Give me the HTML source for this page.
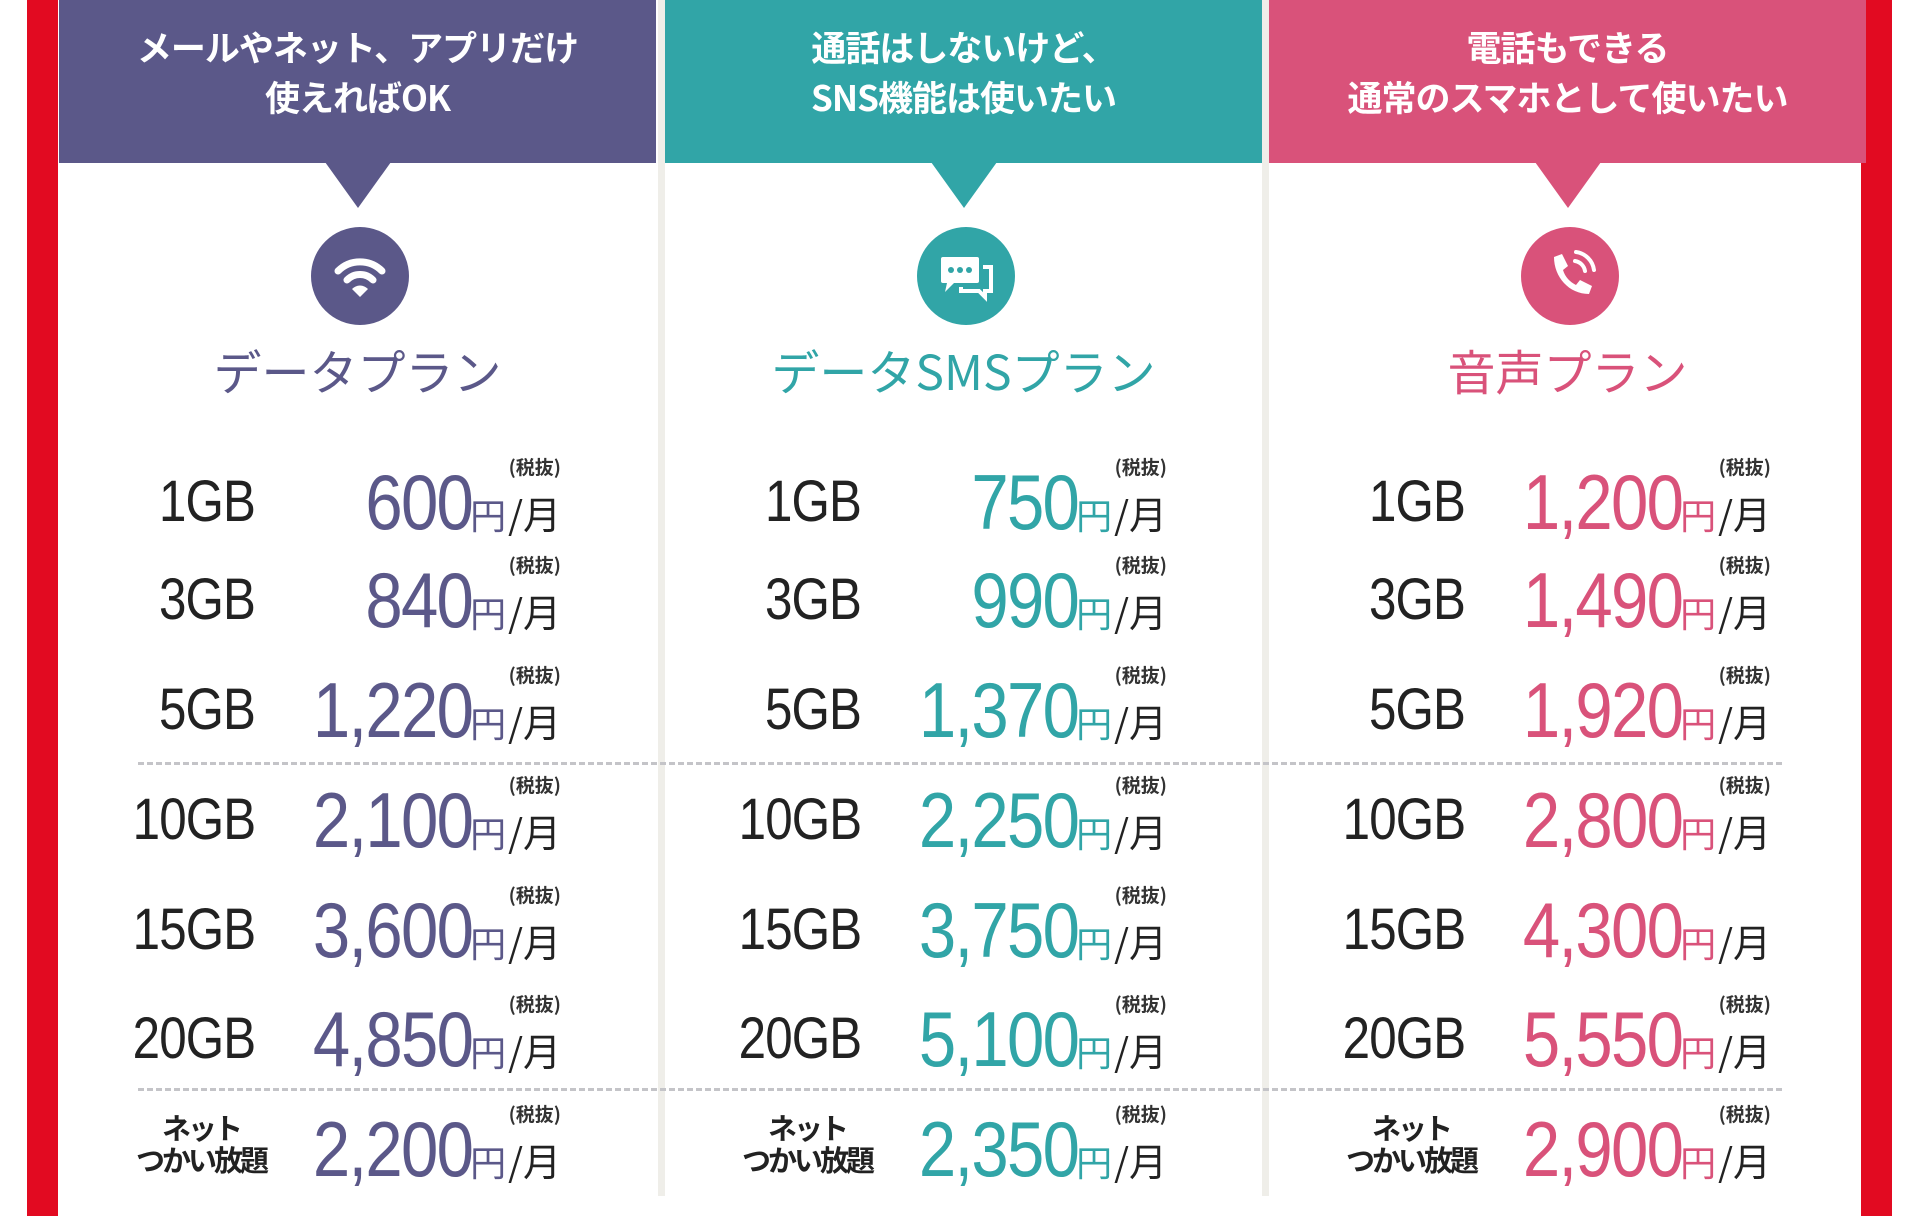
<!DOCTYPE html>
<html><head><meta charset="utf-8"><style>
*{margin:0;padding:0;box-sizing:border-box}
body{width:1920px;height:1216px;background:#fff;position:relative;overflow:hidden;font-family:"Liberation Sans","Noto Sans CJK JP",sans-serif}
.red{position:absolute;top:0;height:1216px;width:31px;background:#e20a21}
.gap{position:absolute;top:0;height:1196px;width:7px;background:#efeee9}
.col{position:absolute;top:0;width:597px;height:1216px}
.hd{position:absolute;left:0;top:0;width:100%;height:163px;color:#fff;font-weight:bold;font-size:35px;letter-spacing:-1px;line-height:50px;text-align:center;padding-top:22px;font-family:"Noto Sans CJK JP",sans-serif}
.tri{position:absolute;left:266px;top:162px;width:0;height:0;border-left:33px solid transparent;border-right:33px solid transparent;border-top:46px solid}
.ic{position:absolute;left:252px;top:227px;width:98px;height:98px;border-radius:50%}
.ic svg{position:absolute;left:0;top:0}
.ttl{position:absolute;left:0;width:100%;top:339px;text-align:center;font-size:48px;line-height:60px;font-family:"Noto Sans CJK JP",sans-serif;font-weight:400}
.row{position:absolute;left:0;width:100%;height:80px}
.gb{position:absolute;right:401px;top:0;font-size:58px;line-height:80px;color:#222;letter-spacing:-1px;transform:scaleX(.85);transform-origin:right}
.pr{position:absolute;right:95px;top:0;display:flex;align-items:baseline;line-height:80px;white-space:nowrap}
.num{font-size:78px;letter-spacing:-2px;transform:scaleX(.86);transform-origin:right;display:inline-block;margin-right:-2px}
.yen{font-size:36px;font-family:"Noto Sans CJK JP",sans-serif;margin-left:0}
.mo{font-size:38px;color:#222;font-family:"Noto Sans CJK JP",sans-serif;position:relative;margin-left:2px}
.tax{position:absolute;right:0;top:-16px;font-size:19px;line-height:20px;color:#333;font-weight:bold;white-space:nowrap}
.ul{position:absolute;right:390px;top:2px;font-size:29px;line-height:32px;color:#222;font-weight:bold;text-align:center;font-family:"Noto Sans CJK JP",sans-serif;letter-spacing:-3px}
.dash{position:absolute;left:138px;width:1644px;height:0;border-top:3px dashed #c4c4c8}
</style></head><body>
<div class="red" style="left:27px"></div>
<div class="red" style="left:1861px"></div>
<div class="gap" style="left:658px"></div>
<div class="gap" style="left:1262px"></div>

<div class="col" style="left:59px;color:#5b5889">
<div class="hd" style="background:#5b5889">メールやネット、アプリだけ<br>使えればOK</div>
<div class="tri" style="border-top-color:#5b5889"></div>
<div class="ic" style="background:#5b5889"><svg width="98" height="98" viewBox="0 0 98 98"><g fill="none" stroke="#fff" stroke-width="7" stroke-linecap="round"><path d="M27 44a31 31 0 0 1 44 0"/><path d="M36 53a18 18 0 0 1 26 0"/></g><path d="M41 62l8 8 8-8a11 11 0 0 0-16 0z" fill="#fff"/></svg></div>
<div class="ttl">データプラン</div>
</div>
<div class="col" style="left:665px;color:#31a5a7">
<div class="hd" style="background:#31a5a7">通話はしないけど、<br>SNS機能は使いたい</div>
<div class="tri" style="border-top-color:#31a5a7"></div>
<div class="ic" style="background:#31a5a7"><svg width="98" height="98" viewBox="0 0 98 98"><rect x="24" y="30" width="38" height="26" rx="2" fill="#fff"/><path d="M30 56l-2 9 9-9z" fill="#fff"/><g fill="#31a5a7"><circle cx="34" cy="43" r="3"/><circle cx="43" cy="43" r="3"/><circle cx="52" cy="43" r="3"/></g><path d="M66 40h8v24h-6v6l-6-6H44v-4" fill="none" stroke="#fff" stroke-width="4"/></svg></div>
<div class="ttl">データSMSプラン</div>
</div>
<div class="col" style="left:1269px;color:#d9527a">
<div class="hd" style="background:#d9527a">電話もできる<br>通常のスマホとして使いたい</div>
<div class="tri" style="border-top-color:#d9527a"></div>
<div class="ic" style="background:#d9527a"><svg width="98" height="98" viewBox="0 0 98 98"><path d="M33 30l8-3 6 12-5 4c2 7 7 12 13 15l4-5 12 6-3 8c-20 0-35-17-35-37z" fill="#fff"/><g fill="none" stroke="#fff" stroke-width="4" stroke-linecap="round"><path d="M54 34a12 12 0 0 1 10 10"/><path d="M55 25a21 21 0 0 1 18 18"/></g></svg></div>
<div class="ttl">音声プラン</div>
</div>

<div class="dash" style="top:762px"></div>
<div class="dash" style="top:1088px"></div>

<div id="rows"></div>
<script>
var data=[["1GB",["600","750","1,200"]],["3GB",["840","990","1,490"]],["5GB",["1,220","1,370","1,920"]],["10GB",["2,100","2,250","2,800"]],["15GB",["3,600","3,750","4,300"]],["20GB",["4,850","5,100","5,550"]],["UL",["2,200","2,350","2,900"]]];
var tops=[462,560,670,780,890,999,1109];
var lefts=[59,665,1269],cols=["#5b5889","#31a5a7","#d9527a"];
var h="";
data.forEach(function(r,i){for(var c=0;c<3;c++){
 var lab=r[0]=="UL"?'<div class="ul">ネット<br>つかい放題</div>':'<div class="gb">'+r[0]+'</div>';
 var tax=(c==2&&i==4)?'':'<span class="tax">(税抜)</span>';
 h+='<div class="row" style="left:'+lefts[c]+'px;width:597px;top:'+tops[i]+'px">'+lab+'<div class="pr" style="color:'+cols[c]+'"><span class="num">'+r[1][c]+'</span><span class="yen">円</span><span class="mo">/月'+tax+'</span></div></div>';
}});
document.getElementById("rows").innerHTML=h;
</script>
</body></html>
